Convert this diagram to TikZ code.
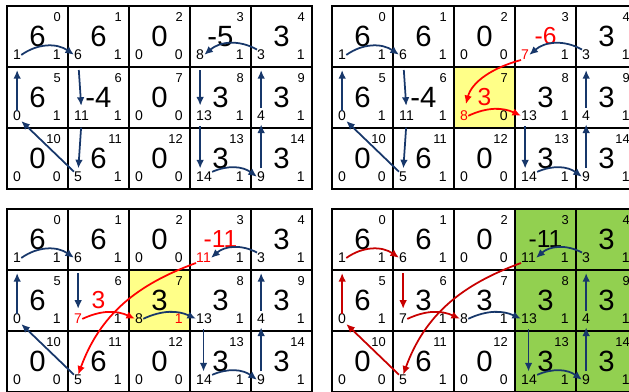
\documentclass[tikz,border=0pt]{standalone}
\usepackage{fontspec}
\setmainfont{Liberation Sans}
\usetikzlibrary{arrows.meta,positioning,backgrounds}
\definecolor{navy}{HTML}{17376A}
\definecolor{hotred}{HTML}{FF0000}
\definecolor{deepred}{HTML}{C80000}
\definecolor{hilite}{HTML}{FFFF88}
\definecolor{donegreen}{HTML}{92D050}
\tikzset{
  cellbox/.style={draw=black,line width=2.5pt,minimum size=1.83cm,
                  inner sep=0pt,outer sep=0pt},
  valtxt/.style={font=\fontsize{25}{25}\selectfont,inner sep=0pt},
  idxtxt/.style={font=\fontsize{11}{11}\selectfont,inner sep=0pt,anchor=north east},
  lbltxt/.style={font=\fontsize{12}{12}\selectfont,inner sep=0pt,anchor=south west},
  rbltxt/.style={font=\fontsize{12}{12}\selectfont,inner sep=0pt,anchor=south east},
  linkarr/.style={-{Latex[length=2.6mm,width=2.3mm]},line width=1.5pt,color=navy},
  hotarr/.style={linkarr,color=hotred},
  deeparr/.style={linkarr,color=deepred}
}
\newcommand{\rv}[1]{{\color{hotred}\fontsize{21}{21}\selectfont #1}}
\newcommand{\sv}[1]{{\fontsize{21}{21}\selectfont #1}}
\newcommand{\rl}[1]{\textcolor{hotred}{#1}}
% one 5x3 panel: name, shift, values, left labels, right labels
\newcommand{\gridpanel}[5]{%
  \begin{scope}[shift={#2}]
    \foreach \v [count=\i from 0] in {#3} {
      \pgfmathtruncatemacro\ry{int(\i/5)}
      \pgfmathtruncatemacro\cx{\i-5*\ry}
      \node[cellbox] (#1-c\i) at (\cx*61+30.5,-\ry*61-30.5) {};
      \node[valtxt] (#1-v\i) at (#1-c\i) {\v};
      \node[idxtxt] (#1-n\i) at ([shift={(-7,-6)}]#1-c\i.north east) {\i};
    }
    \foreach \v [count=\i from 0] in {#4}
      \node[lbltxt] (#1-l\i) at ([shift={(6,7)}]#1-c\i.south west) {\v};
    \foreach \v [count=\i from 0] in {#5}
      \node[rbltxt] (#1-r\i) at ([shift={(-7,7)}]#1-c\i.south east) {\v};
  \end{scope}}

\begin{document}
\begin{tikzpicture}[x=0.03cm,y=0.03cm]
  \useasboundingbox (0,0) rectangle (629,-391);
  \clip (0,0) rectangle (629,-391);

  %% panel a
  \gridpanel{a}{(7,-6)}{6,6,0,-5,3,6,-4,0,3,3,0,6,0,3,3}
    {1,6,0,8,3,0,11,0,13,4,0,5,0,14,9}{1,1,0,1,1,1,1,0,1,1,0,1,0,1,1}
  \draw[linkarr] (a-l0.east) to[bend left=35] (a-l1.west);
  \draw[linkarr,shorten >=3mm] (a-l5.north) -- (a-l0.south);
  \draw[linkarr,shorten <=3mm,shorten >=1.5mm] (a-l1.south) -- (a-l6.north);
  \draw[linkarr,shorten <=2mm,shorten >=1mm] (a-l6.south) -- (a-l11.north);
  \draw[linkarr] (a-l11.north west) -- (a-l5.south east);
  \draw[linkarr] (a-l4.north west) to[bend right=35] (a-l3.east);
  \draw[linkarr,shorten <=3mm,shorten >=1.5mm] (a-l3.south) -- (a-l3.south |- a-l8.north);
  \draw[linkarr,shorten <=1.5mm,shorten >=1mm] (a-l3.south |- a-l8.south) -- (a-l3.south |- a-l13.north);
  \draw[linkarr] (a-l13.north east) to[bend left=30] (a-l14.west);
  \draw[linkarr,shorten <=1mm,shorten >=1mm] (a-l14.north) -- (a-l9.south);
  \draw[linkarr,shorten <=1mm,shorten >=3mm] (a-l9.north) -- (a-l4.south);

  %% panel b
  \gridpanel{b}{(332,-6)}{6,6,0,\rv{-6},3,6,-4,\rv{3},3,3,0,6,0,3,3}
    {1,6,0,\rl{7},3,0,11,\rl{8},13,4,0,5,0,14,9}{1,1,0,1,1,1,1,0,1,1,0,1,0,1,1}
  \begin{scope}[on background layer]
    \fill[hilite] (b-c7.north west) rectangle (b-c7.south east);
  \end{scope}
  \draw[linkarr] (b-l0.east) to[bend left=35] (b-l1.west);
  \draw[linkarr,shorten >=3mm] (b-l5.north) -- (b-l0.south);
  \draw[linkarr,shorten <=3mm,shorten >=1.5mm] (b-l1.south) -- (b-l6.north);
  \draw[linkarr,shorten <=2mm,shorten >=1mm] (b-l6.south) -- (b-l11.north);
  \draw[linkarr] (b-l11.north west) -- (b-l5.south east);
  \draw[linkarr] (b-l4.north west) to[bend right=35] (b-l3.east);
  \draw[hotarr,shorten >=2mm] (b-l3.south west) to[out=195,in=75] (b-l7.north);
  \draw[hotarr] (b-l7.east) to[bend left=25] (b-l8.west);
  \draw[linkarr,shorten <=1.5mm,shorten >=1mm] (b-l3.south |- b-l8.south) -- (b-l3.south |- b-l13.north);
  \draw[linkarr] (b-l13.north east) to[bend left=30] (b-l14.west);
  \draw[linkarr,shorten <=1mm,shorten >=1mm] (b-l14.north) -- (b-l9.south);
  \draw[linkarr,shorten <=1mm,shorten >=3mm] (b-l9.north) -- (b-l4.south);

  %% panel c
  \gridpanel{c}{(7,-209)}{6,6,0,\rv{-11},3,6,\rv{3},3,3,3,0,6,0,3,3}
    {1,6,0,\rl{11},3,0,\rl{7},8,13,4,0,5,0,14,9}{1,1,0,1,1,1,1,\rl{1},1,1,0,1,0,1,1}
  \begin{scope}[on background layer]
    \fill[hilite] (c-c7.north west) rectangle (c-c7.south east);
  \end{scope}
  \draw[linkarr] (c-l0.east) to[bend left=35] (c-l1.west);
  \draw[linkarr,shorten >=3mm] (c-l5.north) -- (c-l0.south);
  \draw[linkarr,shorten <=3mm,shorten >=1.5mm] (c-l1.south) -- (c-l6.north);
  \draw[linkarr] (c-l11.north west) -- (c-l5.south east);
  \draw[hotarr] (c-l6.east) to[bend left=25] (c-l7.west);
  \draw[linkarr] (c-l7.east) to[bend left=25] (c-l8.west);
  \draw[hotarr] (c-l3.south west) to[out=200,in=70] (c-l11.north);
  \draw[linkarr] (c-l4.north west) to[bend right=35] (c-l3.east);
  \draw[linkarr,shorten <=1.5mm,shorten >=1mm] (c-l3.south |- c-l8.south) -- (c-l3.south |- c-l13.north);
  \draw[linkarr] (c-l13.north east) to[bend left=30] (c-l14.west);
  \draw[linkarr,shorten <=1mm,shorten >=1mm] (c-l14.north) -- (c-l9.south);
  \draw[linkarr,shorten <=1mm,shorten >=3mm] (c-l9.north) -- (c-l4.south);

  %% panel d
  \gridpanel{d}{(332,-209)}{6,6,0,\sv{-11},3,6,3,3,3,3,0,6,0,3,3}
    {1,6,0,11,3,0,7,8,13,4,0,5,0,14,9}{1,1,0,1,1,1,1,1,1,1,0,1,0,1,1}
  \begin{scope}[on background layer]
    \foreach \k in {3,4,8,9,13,14}
      \fill[donegreen] (d-c\k.north west) rectangle (d-c\k.south east);
  \end{scope}
  \draw[deeparr] (d-l0.east) to[bend left=35] (d-l1.west);
  \draw[deeparr,shorten >=3mm] (d-l5.north) -- (d-l0.south);
  \draw[deeparr,shorten <=3mm,shorten >=1.5mm] (d-l1.south) -- (d-l6.north);
  \draw[deeparr] (d-l11.north west) -- (d-l5.south east);
  \draw[deeparr] (d-l6.east) to[bend left=25] (d-l7.west);
  \draw[linkarr] (d-l7.east) to[bend left=25] (d-l8.west);
  \draw[deeparr] (d-l3.south west) to[out=200,in=70] (d-l11.north);
  \draw[linkarr] (d-l4.north west) to[bend right=35] (d-l3.east);
  \draw[linkarr,shorten <=1.5mm,shorten >=1mm] (d-l3.south |- d-l8.south) -- (d-l3.south |- d-l13.north);
  \draw[linkarr] (d-l13.north east) to[bend left=30] (d-l14.west);
  \draw[linkarr,shorten <=1mm,shorten >=1mm] (d-l14.north) -- (d-l9.south);
  \draw[linkarr,shorten <=1mm,shorten >=3mm] (d-l9.north) -- (d-l4.south);
\end{tikzpicture}
\end{document}
